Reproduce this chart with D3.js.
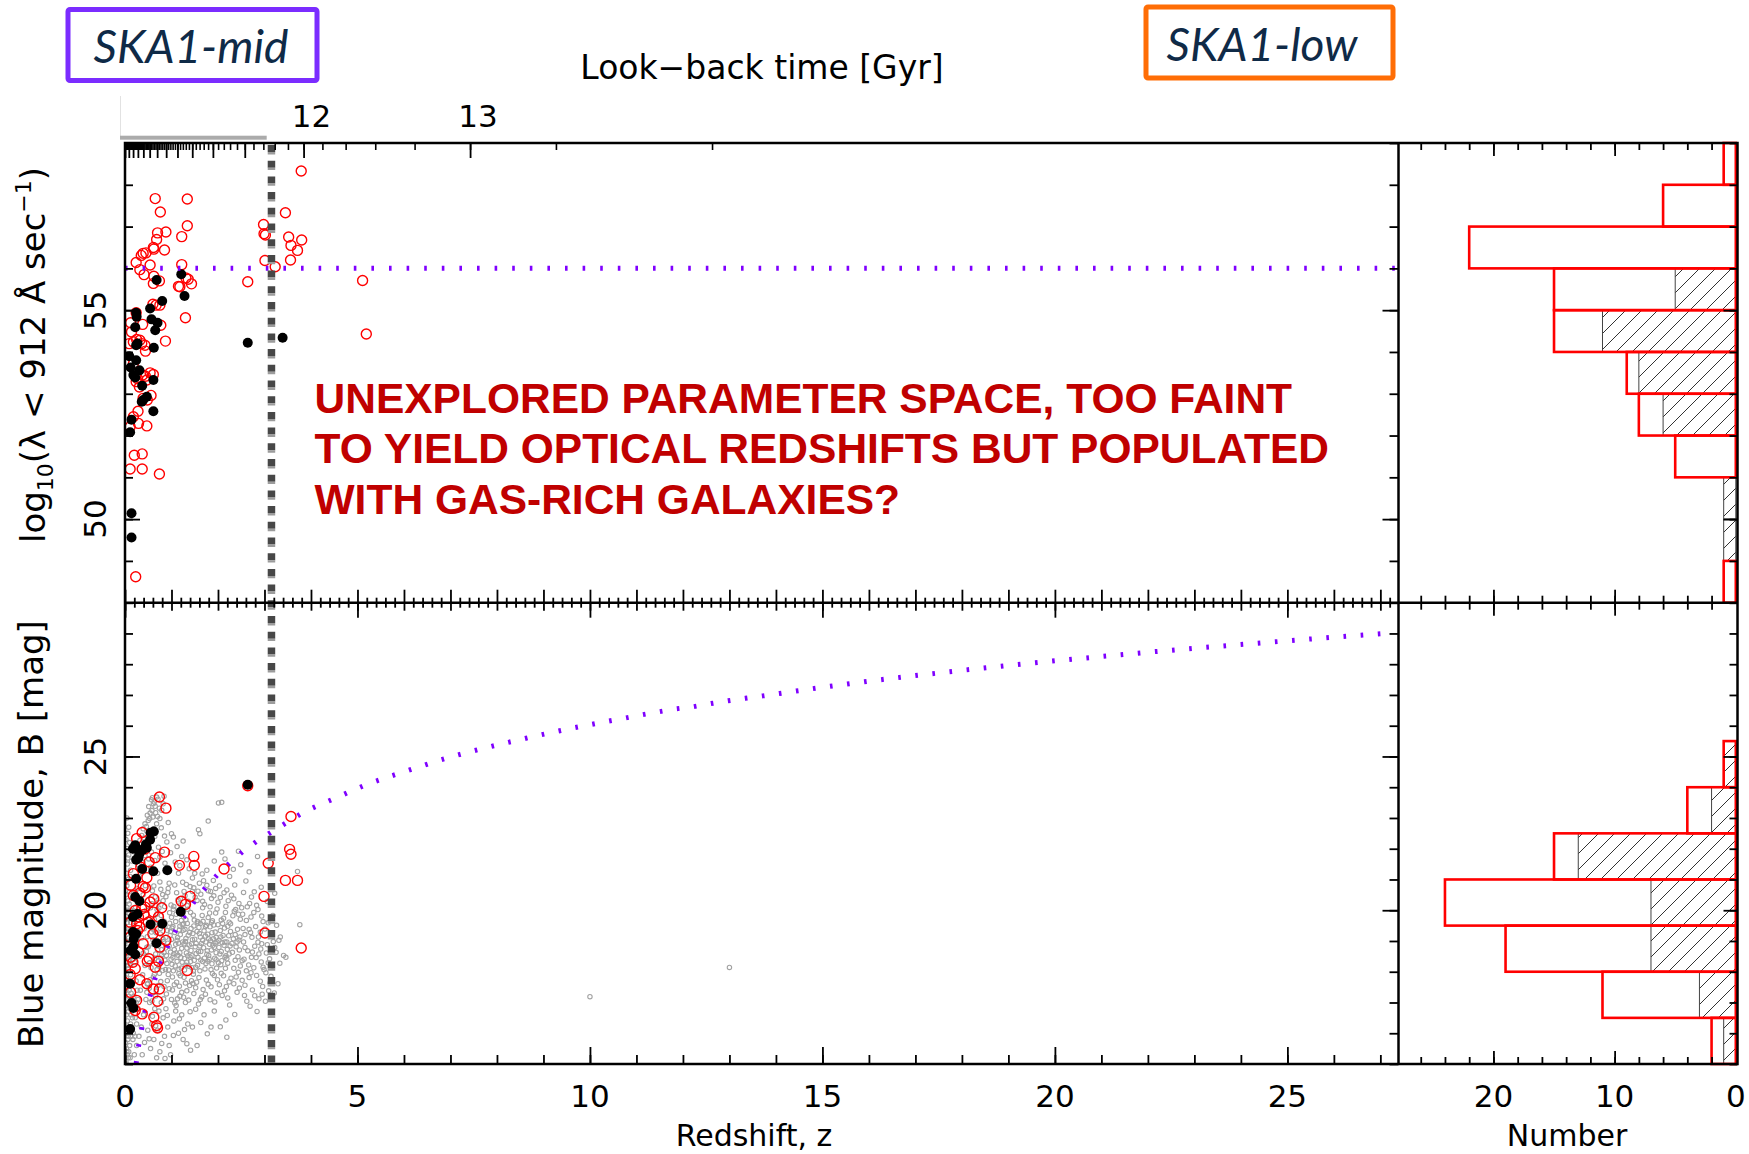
<!DOCTYPE html>
<html>
<head>
<meta charset="utf-8">
<script src="https://cdn.jsdelivr.net/npm/d3@7"></script>
<style>
  html, body { margin: 0; padding: 0; background: #fff; }
  svg { display: block; }
</style>
</head>
<body>
<svg id="chart" width="1749" height="1154"></svg>
<script>
// ---------- Data ----------
// Upper panel: log10 ionising photon rate vs redshift, [z, log10 Q]
const lycRedCircles = [
  [3.79,58.33],[0.65,57.67],[1.34,57.66],[0.76,57.35],[3.45,57.33],[1.34,57.02],[2.98,57.05],
  [0.70,56.85],[0.88,56.87],[0.68,56.69],[1.22,56.76],[2.99,56.83],[3.02,56.80],[3.52,56.75],
  [3.80,56.68],[3.57,56.55],[3.71,56.43],[0.62,56.46],[0.85,56.44],[0.39,56.36],[0.45,56.37],
  [0.35,56.31],[0.24,56.14],[0.54,56.08],[1.22,56.09],[3.01,56.19],[3.56,56.20],[3.23,56.04],[0.61,56.50],
  [0.32,55.97],[0.41,55.85],[0.62,55.81],[0.61,55.64],[0.74,55.70],[1.31,55.77],[1.18,55.56],
  [1.43,55.63],[2.64,55.68],[5.11,55.71],[0.67,55.12],[0.75,55.12],[1.36,55.74],[1.15,55.57],[0.60,55.14],
  [1.30,54.82],[0.24,54.94],[0.12,54.70],[0.38,54.66],[0.77,54.64],[0.25,54.30],[0.09,54.20],
  [0.36,54.20],[0.18,54.24],[0.87,54.26],[0.44,54.02],[5.19,54.43],[0.32,54.28],[0.43,54.16],[0.14,54.48],
  [0.61,53.46],[0.44,53.42],[0.24,53.29],[0.38,53.45],[0.27,53.36],[0.54,53.50],[0.47,53.33],[0.18,53.72],[0.31,53.16],
  [0.56,52.96],[0.48,52.85],[0.28,52.58],[0.11,52.21],[0.29,52.29],[0.47,52.23],[0.39,52.89],[0.18,52.45],
  [0.20,51.53],[0.37,51.56],[0.11,51.20],[0.37,51.20],[0.74,51.08],
  [0.23,48.62]
];
const lycBlackDots = [
  [0.68,55.72],[1.21,55.86],[0.80,55.22],[1.28,55.34],[0.54,55.04],[0.24,54.94],[0.25,54.84],
  [0.57,54.78],[0.70,54.70],[0.22,54.59],[0.65,54.52],[0.27,54.20],[0.24,54.16],[0.62,54.10],
  [2.64,54.22],[3.39,54.34],[0.09,53.90],[0.24,53.80],[0.12,53.63],[0.31,53.56],[0.18,53.45],
  [0.22,53.39],[0.61,53.33],[0.37,53.19],[0.39,52.85],[0.47,52.93],[0.61,52.58],[0.14,52.38],
  [0.11,52.08],[0.36,52.81],[0.14,50.14],[0.14,49.56]
];
const lycLimit = 56.0;

// Lower panel: blue magnitude vs redshift, [z, B]
const magRedCircles = [
  [2.64,24.05],
  [0.74,23.68],[0.88,23.32],[3.57,23.05],[0.37,22.53],
  [0.85,21.89],[1.48,21.75],[1.49,21.46],[1.17,21.46],[2.13,21.34],[3.08,21.53],[3.54,21.98],
  [3.57,21.82],[0.43,21.99],[0.34,21.40],[0.52,21.57],[0.18,21.19],[0.47,21.06],[0.65,21.71],[0.25,22.33],
  [3.45,20.97],[3.71,20.97],[2.99,20.45],[0.12,20.81],[0.39,20.77],[0.44,20.73],[0.62,20.37],
  [1.21,20.29],[1.40,20.45],[1.30,20.19],[0.43,20.10],[0.61,19.94],[0.29,19.78],[0.41,19.86],
  [0.36,20.05],[0.25,19.56],[0.18,20.48],[0.54,20.27],[0.32,20.56],[0.72,19.78],[0.22,19.99],
  [0.50,19.61],[0.11,19.61],[0.79,20.08],
  [3.01,19.26],[3.79,18.77],[0.32,19.45],[0.75,19.34],[0.88,19.02],[0.75,18.80],[0.12,18.47],
  [0.52,18.42],[0.72,18.34],[0.27,19.34],[0.48,18.34],[0.17,18.31],[1.34,18.04],[0.11,19.13],
  [0.39,18.91],[0.60,19.23],[0.29,18.64],[0.65,18.15],[0.22,18.10],
  [0.11,17.91],[0.32,17.74],[0.61,17.44],[0.74,17.44],[0.12,17.33],[0.70,17.04],[0.22,16.74],
  [0.37,16.63],[0.62,16.52],[0.47,17.61],[0.25,17.07],
  [0.68,16.25],[0.70,16.17]
];
const magBlackDots = [
  [2.64,24.08],[0.62,22.56],[0.55,22.52],[0.54,22.29],[0.45,22.14],[0.22,22.11],[0.17,22.00],
  [0.38,21.97],[0.31,21.84],[0.29,21.71],[0.24,21.64],[0.37,21.34],[0.61,21.27],[0.91,21.30],
  [0.24,21.02],[0.47,22.03],
  [0.22,20.43],[0.31,20.30],[0.27,19.88],[1.20,19.95],[0.17,19.78],[0.55,19.54],[0.80,19.56],
  [0.17,19.29],[0.24,19.23],[0.68,18.93],[0.18,18.82],[0.12,18.69],[0.22,18.56],[0.19,19.07],
  [0.11,17.61],[0.14,16.98],[0.18,16.82],[0.11,16.14]
];
// Comparison galaxy sample (grey rings), [z, B]
const grayLowZ = [
  [0.02,15.1],[0.05,15.3],[0.03,15.5],[0.08,15.4],[0.01,15.7],[0.06,15.8],[0.10,15.6],[0.04,16.0],
  [0.02,16.2],[0.09,16.1],[0.05,16.4],[0.12,16.3],[0.03,16.6],[0.07,16.7],[0.01,16.9],[0.11,16.8],
  [0.04,17.1],[0.08,17.2],[0.02,17.4],[0.13,17.3],[0.06,17.6],[0.03,17.8],[0.10,17.7],[0.01,18.0],
  [0.07,18.1],[0.04,18.3],[0.12,18.2],[0.02,18.5],[0.09,18.6],[0.05,18.8],[0.14,18.7],[0.03,19.0],
  [0.08,19.1],[0.01,19.3],[0.11,19.4],[0.05,19.6],[0.02,19.8],[0.09,19.9],[0.04,20.1],[0.13,20.0],
  [0.06,20.3],[0.02,20.5],[0.10,20.6],[0.04,20.8],[0.07,21.0],[0.03,21.2],[0.12,21.3],[0.05,21.5],
  [0.08,21.8],[0.04,22.0],[0.10,22.2],[0.06,22.5],[0.03,15.0],[0.07,15.2],[0.13,15.9],[0.15,17.0],
  [0.16,18.4],[0.15,19.2],[0.17,20.4],[0.14,21.6],
  [0.04,15.4],[0.11,15.2],[0.07,15.9],[0.01,16.1],[0.13,16.6],[0.05,16.9],[0.09,17.4],[0.02,17.6],
  [0.12,17.9],[0.06,18.2],[0.10,18.4],[0.03,18.7],[0.14,19.0],[0.07,19.4],[0.01,19.7],[0.12,19.6],
  [0.05,20.0],[0.09,20.2],[0.02,20.9],[0.11,21.1],[0.06,21.7],[0.02,22.3],[0.08,22.7],[0.04,23.0],
  [0.20,15.3],[0.25,15.6],[0.18,16.0],[0.30,15.9],[0.22,16.5],[0.35,16.2],[0.28,16.8],[0.40,16.6],
  [0.19,17.2],[0.33,17.4],[0.45,17.1],[0.24,17.7],[0.38,17.9],[0.48,17.6],[0.21,18.3],[0.31,18.5],
  [0.43,18.2],[0.26,18.9],[0.36,19.1],[0.47,18.8],[0.19,19.5],[0.29,19.7],[0.41,19.4],[0.23,20.1],
  [0.34,20.3],[0.46,20.0],[0.27,20.7],[0.39,20.5],[0.20,21.0],[0.32,21.1],[0.44,20.8],[0.25,16.3],
  [0.42,15.7],[0.37,15.3],[0.49,16.1],[0.17,15.8],[0.28,17.1],[0.18,18.8],[0.39,18.6],[0.30,19.3],
  [0.21,15.9],[0.26,17.4],[0.23,18.6],[0.27,19.9],[0.22,20.6],[0.19,21.9],[0.16,16.5],[0.24,17.0],
  [0.21,19.1],[0.26,20.3]
];
const grayFaint = [
  [0.55,15.5],[0.62,15.8],[0.75,15.4],[0.85,15.9],[0.95,15.6],[0.58,16.3],[0.70,16.1],[0.82,16.5],
  [0.92,16.2],[1.05,16.4],[1.15,16.0],[0.64,16.8],[0.78,17.0],[0.88,16.8],[1.00,17.1],[1.10,16.9],
  [1.22,16.6],[1.30,17.0],[1.40,16.7],[0.53,17.0],[1.18,17.2],[0.98,15.3],[1.25,15.8],[1.45,16.2],
  [1.55,15.6],[1.70,16.6],[1.85,16.2],[2.19,15.87],[1.62,17.1],[0.68,15.2],[1.35,16.3],
  [0.52,15.82],[0.66,16.24],[0.79,15.67],[0.91,16.58],[1.04,15.93],[1.17,16.47],[1.28,16.12],[1.41,15.45],
  [1.52,16.78],[1.63,16.35],[1.77,15.98],[1.92,16.72],[2.05,16.21],[0.73,16.72],[0.59,16.55],[1.09,16.72],
  [0.86,15.18],[1.33,15.66]
];
const grayCore = [
  [0.52,17.46],[0.61,17.83],[0.67,17.37],[0.77,17.68],[0.84,17.52],[0.93,17.91],[0.56,18.13],[0.64,18.42],
  [0.73,18.19],[0.79,18.55],[0.90,18.27],[0.98,18.64],[0.50,18.81],[0.60,19.04],[0.68,18.87],[0.76,19.23],
  [0.83,18.98],[0.91,19.34],[0.53,19.52],[0.63,19.71],[0.71,19.58],[0.78,19.83],[0.86,19.47],[0.96,19.92],
  [0.58,20.21],[0.65,20.43],[0.73,20.07],[0.82,20.31],[0.92,20.58],[0.99,20.17],[0.62,20.79],[0.77,20.68],
  [0.95,20.88],[0.66,17.21],[0.89,17.28],[0.70,18.71],[0.94,18.06],[0.57,19.29],[0.81,19.51],[0.69,20.02],
  [0.87,18.77],[0.74,17.95],[0.97,19.18],[0.54,17.74],[0.85,20.12],
  [1.02,17.41],[1.11,17.66],[1.17,17.53],[1.27,17.82],[1.33,17.38],[1.43,17.71],[1.48,17.29],[1.04,18.03],
  [1.12,18.34],[1.21,18.12],[1.28,18.43],[1.37,18.18],[1.44,18.52],[1.06,18.72],[1.15,18.93],[1.22,18.76],
  [1.31,19.08],[1.38,18.87],[1.46,19.24],[1.01,19.42],[1.09,19.63],[1.18,19.48],[1.26,19.79],[1.34,19.57],
  [1.41,19.93],[1.49,19.68],[1.05,20.12],[1.14,20.34],[1.20,20.18],[1.29,20.47],[1.36,20.29],[1.45,20.61],
  [1.07,20.82],[1.24,20.91],[1.40,20.77],[1.16,17.94],[1.32,18.61],[1.47,18.02],[1.19,19.21],[1.35,20.03],
  [1.03,18.47],[1.26,17.17],[1.42,19.41],[1.10,19.87],[1.30,18.98],[1.23,18.31],[1.39,17.55],[1.13,17.12],
  [1.52,17.48],[1.59,17.81],[1.68,17.42],[1.75,17.73],[1.85,17.51],[1.92,17.88],[1.56,18.21],[1.63,18.38],
  [1.72,18.09],[1.80,18.53],[1.87,18.26],[1.96,18.62],[1.53,18.92],[1.62,19.13],[1.69,18.78],[1.78,19.22],
  [1.84,19.01],[1.94,19.29],[1.57,19.58],[1.66,19.83],[1.73,19.47],[1.82,19.91],[1.88,19.66],[1.98,20.04],
  [1.55,20.32],[1.63,20.52],[1.71,20.19],[1.79,20.63],[1.86,20.38],[1.95,20.71],[1.60,20.88],[1.76,20.81],
  [1.90,20.97],[1.65,17.18],[1.83,17.09],[1.99,17.31],[1.58,18.66],[1.74,18.97],[1.91,19.52],[1.67,20.08],
  [1.81,18.41],[1.97,18.12],
  [2.03,17.58],[2.12,17.87],[2.18,17.52],[2.28,17.79],[2.34,17.61],[2.44,17.98],[2.06,18.23],[2.15,18.47],
  [2.21,18.28],[2.31,18.63],[2.37,18.37],[2.46,18.71],[2.02,19.02],[2.11,19.18],[2.19,18.97],[2.27,19.31],
  [2.33,19.07],[2.42,19.38],[2.07,19.68],[2.16,19.93],[2.24,19.61],[2.32,19.82],[2.38,20.02],[2.48,19.71],
  [2.05,20.41],[2.13,20.57],[2.22,20.31],[2.29,20.49],[2.45,20.22],[2.09,17.23],[2.25,16.92],[2.41,17.33],
  [2.36,16.61],[2.17,16.43],[2.48,18.19],[2.26,18.84],
  [2.52,17.72],[2.61,18.03],[2.67,17.81],[2.77,18.13],[2.83,17.88],[2.93,18.32],[2.56,18.41],[2.64,18.68],
  [2.72,18.47],[2.79,18.83],[2.88,18.58],[2.94,18.91],[2.58,19.21],[2.67,19.38],[2.73,19.12],[2.81,19.47],
  [2.91,19.29],[2.97,19.63],[2.53,19.87],[2.63,20.11],[2.71,19.78],[2.86,20.02],[2.57,17.23],[2.74,17.41],
  [2.88,17.12],[2.96,17.52],[2.69,16.88],[2.84,16.71],[2.99,18.07],[2.55,18.97],
  [3.03,17.97],[3.11,18.42],[3.17,18.18],[3.25,18.63],[3.33,18.28],[3.06,18.88],[3.15,19.21],[3.22,18.79],
  [3.31,19.02],[3.08,19.59],[3.26,19.51],[3.34,19.13],[3.41,18.53],[3.46,18.47],[3.29,17.61],[3.12,17.63],
  [3.21,17.31],[3.02,17.04],[3.76,19.53],[3.18,19.83],
  [0.72,18.36],[0.81,18.04],[0.88,19.12],[0.99,18.41],[1.08,18.19],[1.18,18.62],[1.25,19.35],[1.33,18.77],
  [1.41,18.33],[1.50,19.06],[1.57,18.47],[1.64,18.92],[1.70,19.33],[1.77,18.68],[1.83,19.46],[1.89,18.86],
  [1.96,19.12],[2.04,18.58],[2.09,18.94],[2.14,19.42],[2.20,18.73],[0.76,19.41],[0.84,18.62],[0.92,18.93],
  [1.00,19.05],[1.07,19.28],[1.14,18.54],[1.21,19.67],[1.28,18.06],[1.36,19.19],[1.43,18.91],[1.49,18.37],
  [1.55,19.31],[1.61,18.03],[1.68,19.64],[1.74,18.27],[1.80,19.07],[1.86,18.71],[1.93,18.44],[2.00,19.53],
  [2.08,18.36],[2.16,18.11],[2.23,19.17],[2.30,18.92],[2.39,18.81],[2.47,19.13],[0.66,18.58],[0.62,19.36],
  [1.02,17.83],[1.46,17.62]
];
const grayCoreDense = [
  [0.58,17.05],[0.83,17.12],[1.07,16.98],[1.37,17.08],[1.58,16.95],[1.93,17.02],[2.21,17.15],[2.62,17.04],
  [2.95,17.27],[0.47,17.33],[0.95,17.45],[1.22,17.33],[1.73,17.27],[2.14,17.38],[2.46,17.47],[2.79,17.22],
  [3.09,17.38],
  [0.49,17.62],[0.71,17.55],[0.91,17.71],[1.06,17.58],[1.30,17.63],[1.54,17.66],[1.79,17.59],[1.99,17.74],
  [2.24,17.67],[2.39,17.83],[2.58,17.56],[2.71,17.97],[2.91,17.69],[3.14,17.85],[0.63,17.91],[1.19,17.87],
  [1.47,17.92],[1.88,17.94],[2.07,17.95],
  [0.53,18.29],[0.69,18.07],[0.86,18.38],[1.01,18.24],[1.16,18.08],[1.33,18.31],[1.52,18.15],[1.67,18.33],
  [1.85,18.07],[2.01,18.29],[2.19,18.42],[2.34,18.11],[2.52,18.36],[2.66,18.22],[2.82,18.46],[2.97,18.15],
  [3.08,18.29],[0.77,18.44],[1.40,18.48],[1.96,18.39],[2.43,18.49],
  [0.46,18.66],[0.61,18.89],[0.79,18.72],[0.95,18.83],[1.10,18.61],[1.27,18.91],[1.42,18.69],[1.61,18.84],
  [1.76,18.57],[1.92,18.79],[2.07,18.66],[2.24,18.58],[2.41,18.97],[2.58,18.79],[2.74,18.64],[2.92,18.74],
  [3.04,18.61],[3.19,18.98],[0.89,18.53],[1.53,18.59],[2.13,18.86],[2.86,18.96],
  [0.48,19.14],[0.67,19.27],[0.82,19.06],[0.98,19.31],[1.13,19.11],[1.29,19.38],[1.45,19.04],[1.59,19.44],
  [1.73,19.16],[1.90,19.07],[2.05,19.34],[2.21,19.48],[2.37,19.21],[2.54,19.41],[2.70,19.28],[2.87,19.13],
  [3.01,19.39],[1.03,19.47],[1.67,19.02],[2.45,19.03],
  [0.51,19.73],[0.69,19.88],[0.84,19.64],[1.00,19.77],[1.16,19.95],[1.31,19.69],[1.47,19.84],[1.62,19.57],
  [1.79,19.76],[1.95,19.91],[2.12,19.74],[2.27,19.56],[2.44,19.87],[2.61,19.67],[2.77,19.93],[2.94,19.81],
  [1.23,19.54],[1.86,19.61],[2.35,19.97],
  [0.55,20.08],[0.72,20.26],[0.88,20.44],[1.04,20.03],[1.19,20.38],[1.34,20.15],[1.51,20.42],[1.67,20.29],
  [1.83,20.11],[2.00,20.26],[2.17,20.13],[2.34,20.37],[2.51,20.08],[2.68,20.22],[2.83,20.16],[1.27,20.61],
  [1.91,20.47],
  [0.59,20.63],[0.75,20.92],[0.93,20.71],[1.11,20.57],[1.32,20.84],[1.48,20.73],[1.69,20.96],[1.84,20.61],
  [2.03,20.79],[2.19,20.66],[2.36,20.82],[2.55,20.58],[2.72,20.43],[0.81,20.51],[1.57,20.62],
  [1.05,18.58],[1.12,19.02],[1.20,18.46],[1.26,19.55],[1.35,18.52],[1.39,19.28],[1.44,18.13],[1.51,18.81],
  [1.56,19.63],[1.63,18.66],[1.71,18.44],[1.75,19.51],[1.82,18.89],[1.87,19.27],[1.94,18.93],[2.02,18.79],
  [2.10,19.57],[2.17,18.52],[1.09,18.89],[1.17,19.36],[1.24,18.97],[1.31,18.21],[1.48,19.49],[1.60,19.24],
  [1.78,18.34],[1.98,18.97],[2.06,19.13],[2.15,18.97],[0.96,19.58],[0.87,18.07]
];
const grayBright = [
  [0.57,23.59],[0.61,23.46],[0.65,23.38],[0.54,23.16],[0.60,23.03],[0.50,22.92],[0.43,22.81],[0.39,22.65],
  [0.36,22.43],[0.47,22.57],[0.68,22.81],[0.75,22.98],[0.82,23.46],[0.68,23.68],[0.79,23.25],[0.48,23.09],
  [0.32,22.27],[0.29,22.05],[0.25,21.84],[0.22,21.62],[0.43,21.78],[0.57,21.89],[0.72,22.05],[0.90,22.22],
  [0.75,21.73],[0.86,21.53],[1.00,22.49],[1.04,22.38],[1.22,21.75],[1.08,21.57],[1.33,21.64],[1.58,22.62],
  [1.61,22.49],[1.79,22.90],[2.01,23.49],[2.08,23.51],[2.44,21.92],[2.85,21.75],[2.49,21.48],[2.08,21.89],
  [1.92,21.60],[1.76,21.30],[1.50,21.20],[2.25,21.10],[2.60,20.95],[2.78,20.60],[3.71,21.26],[0.52,22.20],
  [0.64,22.40],[0.38,21.30],[0.55,21.40],[0.70,21.20],[0.95,21.30],[1.15,21.20],[1.38,21.35],
  [0.41,22.35],[0.46,22.72],[0.53,22.98],[0.58,23.24],[0.63,23.52],[0.71,23.61],[0.74,23.32],[0.70,23.05],
  [0.62,22.65],[0.55,22.48],[0.45,22.09],[0.35,21.95],[0.28,21.48],[0.39,21.55],[0.51,21.67],[0.64,21.62],
  [0.80,21.91],[0.85,22.41],[0.78,22.68],[0.66,23.17],[0.59,23.66],[0.51,23.37],[0.84,23.71],[0.93,22.85],
  [1.12,22.07],[0.98,21.87],[1.18,21.45],[1.45,21.05],[1.66,21.18],[2.15,21.67],[2.33,21.33],[2.67,21.25],
  [1.25,22.25],[2.93,20.75],[3.06,20.28],[3.22,20.55],
  [10.0,17.19],[13.0,18.14]
];
// Magnitude of a fixed-luminosity source vs redshift (dotted curve), [z, B]
const limitCurve = [
  [0.24,15.01],[0.29,15.57],[0.36,16.15],[0.43,16.72],[0.55,17.26],[0.65,17.80],[0.79,18.35],[0.93,18.88],
  [1.10,19.37],[1.30,19.87],[1.52,20.35],[1.76,20.78],[2.01,21.19],[2.30,21.60],[2.58,21.97],[2.88,22.29],
  [3.53,22.90],[3.84,23.19],[4.19,23.43],[4.55,23.66],[4.90,23.90],[5.23,24.11],[5.61,24.31],[5.96,24.48],
  [6.32,24.66],[6.68,24.84],[7.04,25.00],[7.41,25.15],[7.78,25.29],[8.13,25.42],[8.51,25.55],[8.87,25.68],
  [9.24,25.80],[9.61,25.92],[9.99,26.03],[10.36,26.14],[10.72,26.24],[11.10,26.35],[11.47,26.45],[11.85,26.55],
  [12.23,26.62],[12.60,26.72],[12.97,26.81],[13.34,26.89],[13.72,26.97],[14.08,27.05],[15,27.25],[16,27.45],
  [17,27.63],[18,27.80],[19,27.96],[20,28.11],[21,28.25],[22,28.39],[23,28.52],[24,28.64],[25,28.76],
  [26,28.88],[27,28.99]
];
// Optical spectroscopic redshift limit
const zOpticalLimit = 3.15;

// Histograms (bin lower edges, counts)
const lycBinStarts = [48,49,50,51,52,53,54,55,56,57,58];
const lycRedCounts = [1,0,0,5,8,9,15,15,22,6,1];
const lycBlackCounts = [0,1,1,0,6,8,11,5,0,0,0];
const lycBinWidth = 1;
const magBinStarts = [15,16.5,18,19.5,21,22.5,24,25.5,27,28.5];
const magRedCounts = [2,11,19,24,15,4,1,0,0,0];
const magBlackCounts = [1,3,7,7,13,2,1,0,0,0];
const magBinWidth = 1.5;

// Tick labels
const zTickLabels = [0,5,10,15,20,25];
const lycTickLabels = [50,55];
const magTickLabels = [20,25];
const countTickLabels = [20,10,0];
const lookbackTickLabels = [12,13];

// ---------- Layout ----------
const svg = d3.select("#chart");
const L = 125, R = 1398.5, HR = 1737.5, T = 143, MID = 602.7, B = 1064;
const x = d3.scaleLinear().domain([0, 27.39]).range([L, R]);
const yTop = d3.scaleLinear().domain([48, 59]).range([MID, T]);
const yBot = d3.scaleLinear().domain([15, 30]).range([B, MID]);
const hx = d3.scaleLinear().domain([0, 27.9]).range([1735.8, 1397.7]);

// Flat LCDM look-back time -> redshift for the top axis
const H0 = 76.2, OMEGA_M = 0.2016;
const OMEGA_L = 1 - OMEGA_M;
const hubbleTime = 977.8 / H0;
const tScale = 2 / (3 * Math.sqrt(OMEGA_L)) * hubbleTime;
const aRatio = Math.sqrt(OMEGA_L / OMEGA_M);
const ageNow = tScale * Math.asinh(aRatio);
const zAtLookback = tl => tl <= 0 ? 0 : Math.pow(Math.sinh((ageNow - tl) / tScale) / aRatio, -2 / 3) - 1;

const FONT = "'DejaVu Sans', sans-serif";

// clip paths for panels
const defs = svg.append("defs");
defs.append("clipPath").attr("id", "clipTop").append("rect")
  .attr("x", L).attr("y", T).attr("width", R - L).attr("height", MID - T);
defs.append("clipPath").attr("id", "clipBot").append("rect")
  .attr("x", L).attr("y", MID).attr("width", R - L).attr("height", B - MID);
const hatch = defs.append("pattern").attr("id", "hatch")
  .attr("patternUnits", "userSpaceOnUse").attr("width", 16).attr("height", 16);
hatch.append("path").attr("d", "M-4,4 L4,-4 M0,16 L16,0 M12,20 L20,12")
  .attr("stroke", "#333").attr("stroke-width", 1);

// ---------- Bottom panel points ----------
const gBot = svg.append("g").attr("clip-path", "url(#clipBot)");
const grayAll = grayLowZ.concat(grayFaint, grayCore, grayCoreDense, grayBright);
gBot.append("g").selectAll("circle").data(grayAll).join("circle")
  .attr("cx", d => x(d[0])).attr("cy", d => yBot(d[1])).attr("r", 2.2)
  .attr("fill", "none").attr("stroke", "#a2a2a2").attr("stroke-width", 1.1);

gBot.append("path").datum(limitCurve)
  .attr("d", d3.line().x(d => x(d[0])).y(d => yBot(d[1])))
  .attr("fill", "none").attr("stroke", "#7f00ff").attr("stroke-width", 5)
  .attr("stroke-dasharray", "2.6,14.6");

gBot.append("g").selectAll("circle").data(magRedCircles).join("circle")
  .attr("cx", d => x(d[0])).attr("cy", d => yBot(d[1])).attr("r", 5)
  .attr("fill", "none").attr("stroke", "#ff0000").attr("stroke-width", 1.4);
gBot.append("g").selectAll("circle").data(magBlackDots).join("circle")
  .attr("cx", d => x(d[0])).attr("cy", d => yBot(d[1])).attr("r", 5).attr("fill", "#000");

// ---------- Top panel points ----------
const gTop = svg.append("g").attr("clip-path", "url(#clipTop)");
gTop.append("g").selectAll("circle").data(lycRedCircles).join("circle")
  .attr("cx", d => x(d[0])).attr("cy", d => yTop(d[1])).attr("r", 5)
  .attr("fill", "none").attr("stroke", "#ff0000").attr("stroke-width", 1.4);
gTop.append("g").selectAll("circle").data(lycBlackDots).join("circle")
  .attr("cx", d => x(d[0])).attr("cy", d => yTop(d[1])).attr("r", 5).attr("fill", "#000");
gTop.append("line")
  .attr("x1", x(0)).attr("x2", x(27.39)).attr("y1", yTop(lycLimit)).attr("y2", yTop(lycLimit))
  .attr("stroke", "#7f00ff").attr("stroke-width", 5).attr("stroke-dasharray", "2.6,15");

// ---------- Histograms ----------
function histogram(starts, width, red, black, yScale) {
  const g = svg.append("g");
  const blk = starts.map((s, i) => ({ s, c: black[i] })).filter(d => d.c > 0);
  g.append("g").selectAll("rect").data(blk).join("rect")
    .attr("x", d => hx(d.c)).attr("width", d => hx(0) - hx(d.c))
    .attr("y", d => yScale(d.s + width)).attr("height", d => yScale(d.s) - yScale(d.s + width))
    .attr("fill", "url(#hatch)").attr("stroke", "#444").attr("stroke-width", 1);
  const rd = starts.map((s, i) => ({ s, c: red[i] }));
  g.append("g").selectAll("rect").data(rd).join("rect")
    .attr("x", d => hx(d.c)).attr("width", d => hx(0) - hx(d.c))
    .attr("y", d => yScale(d.s + width)).attr("height", d => yScale(d.s) - yScale(d.s + width))
    .attr("fill", "none").attr("stroke", "#ff0000").attr("stroke-width", 2.6);
}
histogram(lycBinStarts, lycBinWidth, lycRedCounts, lycBlackCounts, yTop);
histogram(magBinStarts, magBinWidth, magRedCounts, magBlackCounts, yBot);

// ---------- Optical redshift limit ----------
svg.append("line").attr("x1", x(zOpticalLimit)).attr("x2", x(zOpticalLimit))
  .attr("y1", T + 2).attr("y2", B).attr("stroke", "#474747").attr("stroke-width", 7.5)
  .attr("stroke-dasharray", "7,8.7");
svg.append("line").attr("x1", x(zOpticalLimit)).attr("x2", x(zOpticalLimit))
  .attr("y1", T + 2).attr("y2", B).attr("stroke", "#9c9c9c").attr("stroke-width", 7.5)
  .attr("stroke-dasharray", "2.4,13.3").attr("stroke-dashoffset", -7);

// ---------- Frame and ticks ----------
const frame = svg.append("g").attr("fill", "none").attr("stroke", "#000").attr("stroke-width", 2.5);
frame.append("rect").attr("x", L).attr("y", T).attr("width", HR - L).attr("height", B - T);
frame.append("line").attr("x1", L).attr("x2", HR).attr("y1", MID).attr("y2", MID);
frame.append("line").attr("x1", R).attr("x2", R).attr("y1", T).attr("y2", B);

function ticks(axisFn, scale, values, size, tx, ty, width) {
  const g = svg.append("g").attr("transform", `translate(${tx},${ty})`)
    .call(axisFn(scale).tickValues(values).tickSize(size).tickFormat(""));
  g.select(".domain").remove();
  g.selectAll(".tick text").remove();
  g.selectAll(".tick line").attr("stroke", "#000").attr("stroke-width", width || 1.8);
}
const fine = d3.range(0, 27.3, 0.2).filter(v => Math.abs(v - Math.round(v)) > 0.01);
const ints = d3.range(0, 28);
const fives = [0, 5, 10, 15, 20, 25];
// redshift axes
ticks(d3.axisBottom, x, fine, -5, 0, MID);
ticks(d3.axisBottom, x, ints, -13, 0, MID);
ticks(d3.axisTop, x, fine, -5, 0, MID);
ticks(d3.axisTop, x, ints, -8, 0, MID);
ticks(d3.axisTop, x, fives, -15, 0, MID);
ticks(d3.axisBottom, x, ints, -9, 0, B);
ticks(d3.axisBottom, x, fives, -17, 0, B);
// log Q axes
ticks(d3.axisLeft, yTop, d3.range(48, 60), -8, L, 0);
ticks(d3.axisLeft, yTop, lycTickLabels, -15, L, 0);
ticks(d3.axisRight, yTop, d3.range(48, 60), -9, R, 0);
ticks(d3.axisRight, yTop, lycTickLabels, -16, R, 0);
ticks(d3.axisRight, yTop, d3.range(48, 60), -8, HR, 0);
ticks(d3.axisRight, yTop, lycTickLabels, -14, HR, 0);
// magnitude axes
ticks(d3.axisLeft, yBot, d3.range(15, 31), -8, L, 0);
ticks(d3.axisLeft, yBot, magTickLabels, -15, L, 0);
ticks(d3.axisRight, yBot, d3.range(15, 31), -9, R, 0);
ticks(d3.axisRight, yBot, magTickLabels, -16, R, 0);
ticks(d3.axisRight, yBot, d3.range(15, 31), -8, HR, 0);
ticks(d3.axisRight, yBot, magTickLabels, -14, HR, 0);
// count axes
const counts2 = d3.range(2, 27, 2);
[[d3.axisTop, T], [d3.axisBottom, MID], [d3.axisTop, MID], [d3.axisBottom, B]].forEach(([fn, yy]) => {
  ticks(fn, hx, counts2, -7, 0, yy);
  ticks(fn, hx, [10, 20], -13, 0, yy);
});
// look-back time axis
const lbMinor = d3.range(0, 13.5, 0.2).map(zAtLookback);
const lbMajor = d3.range(0, 14, 1).map(zAtLookback);
ticks(d3.axisTop, x, lbMinor, -7, 0, T, 1.6);
ticks(d3.axisTop, x, lbMajor, -15, 0, T, 1.8);

// ---------- Labels ----------
const txt = svg.append("g").attr("font-family", FONT).attr("fill", "#000");
txt.selectAll(".zl").data(zTickLabels).join("text")
  .attr("x", d => x(d)).attr("y", 1107).attr("text-anchor", "middle").attr("font-size", 31).text(d => d);
txt.selectAll(".cl").data(countTickLabels).join("text")
  .attr("x", d => hx(d)).attr("y", 1107).attr("text-anchor", "middle").attr("font-size", 31).text(d => d);
txt.selectAll(".ll").data(lookbackTickLabels).join("text")
  .attr("x", d => x(zAtLookback(d)) + 8).attr("y", 127).attr("text-anchor", "middle").attr("font-size", 31).text(d => d);
txt.selectAll(".ql").data(lycTickLabels).join("text")
  .attr("transform", d => `translate(106,${yTop(d)}) rotate(-90)`)
  .attr("text-anchor", "middle").attr("font-size", 31).text(d => d);
txt.selectAll(".ml").data(magTickLabels).join("text")
  .attr("transform", d => `translate(106,${yBot(d)}) rotate(-90)`)
  .attr("text-anchor", "middle").attr("font-size", 31).text(d => d);

txt.append("text").attr("x", 754).attr("y", 1146).attr("text-anchor", "middle")
  .attr("font-size", 30).text("Redshift, z");
txt.append("text").attr("x", 1567).attr("y", 1146).attr("text-anchor", "middle")
  .attr("font-size", 30).text("Number");
txt.append("text").attr("x", 762).attr("y", 79).attr("text-anchor", "middle")
  .attr("font-size", 33).text("Look\u2212back time [Gyr]");

const yt1 = txt.append("text").attr("transform", "translate(45,355) rotate(-90)")
  .attr("text-anchor", "middle").attr("font-size", 34);
yt1.append("tspan").text("log");
yt1.append("tspan").attr("font-size", 22).attr("dy", 8).text("10");
yt1.append("tspan").attr("dy", -8).text("(\u03bb < 912 \u00c5 sec");
yt1.append("tspan").attr("font-size", 22).attr("dy", -14).text("\u22121");
yt1.append("tspan").attr("dy", 14).text(")");

txt.append("text").attr("transform", "translate(43,834) rotate(-90)")
  .attr("text-anchor", "middle").attr("font-size", 34).text("Blue magnitude, B [mag]");

// masked look-back labels with grey rule
svg.append("line").attr("x1", 120.5).attr("x2", 120.5).attr("y1", 96).attr("y2", 137)
  .attr("stroke", "#e2e2e2").attr("stroke-width", 1);
svg.append("rect").attr("x", 120).attr("y", 135.7).attr("width", 146.7).attr("height", 4)
  .attr("fill", "#ababab");

// Annotation text
const note = svg.append("g").attr("font-family", "'Liberation Sans', Arial, sans-serif")
  .attr("font-weight", "bold").attr("font-size", 42.5).attr("fill", "#c00000");
["UNEXPLORED PARAMETER SPACE, TOO FAINT",
 "TO YIELD OPTICAL REDSHIFTS BUT POPULATED",
 "WITH GAS-RICH GALAXIES?"].forEach((s, i) => {
  note.append("text").attr("x", 314.5).attr("y", 412.7 + i * 50.7).text(s);
});

// Telescope boxes
function telescopeBox(x0, y0, w, h, color, label, cx, cy) {
  svg.append("rect").attr("x", x0).attr("y", y0).attr("width", w).attr("height", h)
    .attr("rx", 2).attr("fill", "#fff").attr("stroke", color).attr("stroke-width", 5);
  svg.append("text").attr("x", cx).attr("y", cy).attr("text-anchor", "middle")
    .attr("font-family", "Lato, 'Open Sans', sans-serif").attr("font-style", "italic")
    .attr("font-size", 46).attr("fill", "#0f2a47").text(label);
}
telescopeBox(68, 9.5, 249, 71, "#7b2cff", "SKA1-mid", 191, 63);
telescopeBox(1146, 7, 247, 71, "#ff6d05", "SKA1-low", 1262, 61);
</script>
</body>
</html>
